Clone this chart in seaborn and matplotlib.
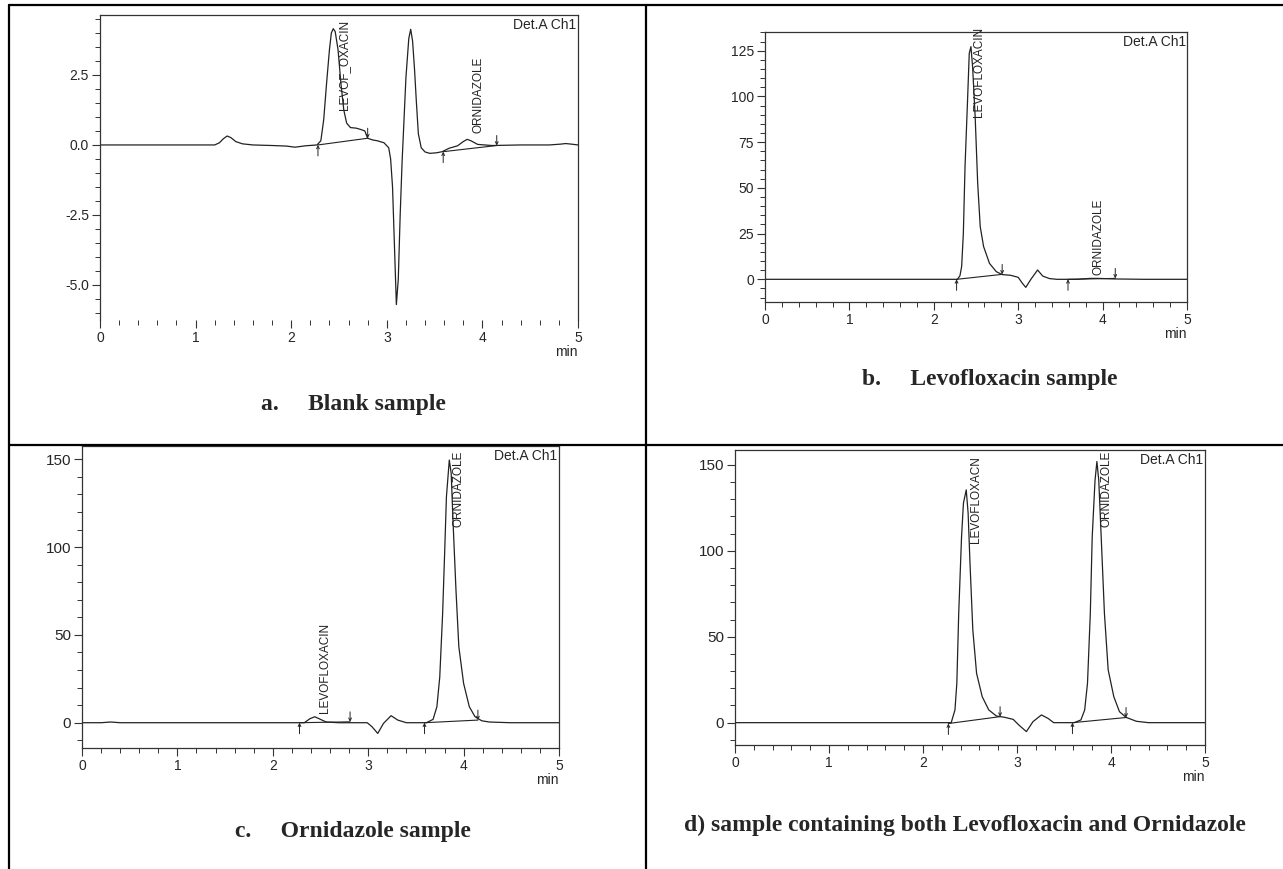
import matplotlib.pyplot as plt
import matplotlib.ticker as mticker
from matplotlib.lines import Line2D
import pandas as pd
import seaborn as sns

# Chromatogram traces (time in min, detector signal)
# a. blank sample
a_time = [0.00, 0.50, 1.00, 1.20, 1.25, 1.29, 1.33, 1.37, 1.42, 1.49, 1.60, 1.80, 1.95, 2.04, 2.15, 2.27, 2.31,
          2.34, 2.37, 2.40, 2.42, 2.44, 2.46, 2.49, 2.52, 2.55, 2.58, 2.62, 2.68, 2.73, 2.77, 2.80, 2.85, 2.90,
          2.97, 3.02, 3.04, 3.06, 3.08, 3.10, 3.12, 3.14, 3.16, 3.18, 3.20, 3.23, 3.25, 3.27, 3.29, 3.31, 3.33,
          3.36, 3.40, 3.45, 3.52, 3.58, 3.65, 3.74, 3.80, 3.84, 3.88, 3.95, 4.10, 4.40, 4.70, 4.82, 4.87, 4.93, 5.00]
a_signal = [0.00, 0.00, 0.00, 0.00, 0.08, 0.22, 0.32, 0.26, 0.12, 0.04, 0.00, -0.02, -0.04, -0.08, -0.03, 0.00, 0.15,
            0.9, 2.2, 3.4, 4.0, 4.15, 4.05, 3.4, 2.2, 1.25, 0.78, 0.62, 0.6, 0.55, 0.5, 0.24, 0.18, 0.15,
            0.08, -0.1, -0.5, -1.5, -3.6, -5.7, -4.8, -2.5, -0.6, 0.9, 2.4, 3.8, 4.13, 3.7, 2.7, 1.5, 0.4,
            -0.1, -0.25, -0.3, -0.28, -0.24, -0.12, -0.03, 0.12, 0.2, 0.15, 0.02, -0.02, 0.0, 0.0, 0.03, 0.05, 0.03, 0.0]
a_start_t, a_start_v = [2.28, 3.59], [0.0, -0.24]
a_end_t, a_end_v = [2.80, 4.15], [0.24, -0.02]
a_names = ["LEVOF_OXACIN", "ORNIDAZOLE"]
a_label_t, a_label_v = [2.555, 3.96], [1.25, 0.42]

# b. levofloxacin sample
b_time = [0.00, 1.00, 2.00, 2.28, 2.31, 2.33, 2.35, 2.37, 2.40, 2.42, 2.44, 2.46, 2.49, 2.52, 2.55, 2.59, 2.66,
          2.74, 2.81, 2.91, 3.00, 3.05, 3.09, 3.15, 3.23, 3.29, 3.37, 3.46, 3.70, 3.85, 3.95, 4.14, 4.50, 5.00]
b_signal = [0.0, 0.0, 0.0, 0.0, 2.0, 7.0, 25.0, 61.6, 98.0, 123.5, 127.2, 116.0, 89.0, 52.5, 28.8, 17.9, 8.7,
            4.2, 2.6, 2.2, 1.1, -2.2, -4.4, 0.0, 5.1, 1.8, 0.4, 0.0, 0.0, 0.5, 0.5, 0.2, 0.0, 0.0]
b_start_t, b_start_v = [2.27, 3.59], [0.0, 0.0]
b_end_t, b_end_v = [2.81, 4.15], [2.7, 0.5]
b_names = ["LEVOFLOXACIN", "ORNIDAZOLE"]
b_label_t, b_label_v = [2.53, 3.95], [88.6, 2.4]

# c. ornidazole sample
c_time = [0.00, 0.20, 0.30, 0.40, 1.00, 2.00, 2.33, 2.39, 2.44, 2.50, 2.56, 2.69, 2.99, 3.04, 3.10, 3.16, 3.24,
          3.31, 3.40, 3.61, 3.68, 3.72, 3.75, 3.78, 3.80, 3.82, 3.85, 3.87, 3.89, 3.92, 3.95, 4.00, 4.06, 4.12,
          4.19, 4.27, 4.49, 5.00]
c_signal = [0.0, 0.0, 0.4, 0.0, 0.0, 0.0, 0.0, 2.3, 3.4, 1.9, 0.4, 0.0, 0.0, -2.3, -6.1, -0.4, 4.0,
            1.5, 0.0, 0.0, 1.9, 9.1, 26.0, 62.0, 94.5, 128.7, 149.6, 142.0, 113.5, 75.6, 43.3, 22.4, 9.1, 3.4,
            1.1, 0.4, 0.0, 0.0]
c_start_t, c_start_v = [2.28, 3.59], [0.0, 0.0]
c_end_t, c_end_v = [2.81, 4.15], [0.5, 1.5]
c_names = ["LEVOFLOXACIN", "ORNIDAZOLE"]
c_label_t, c_label_v = [2.55, 3.95], [5.3, 111.6]

# d. mixture
d_time = [0.00, 1.00, 2.00, 2.30, 2.34, 2.36, 2.38, 2.41, 2.43, 2.46, 2.48, 2.50, 2.53, 2.57, 2.63, 2.70, 2.78,
          2.87, 2.96, 3.02, 3.10, 3.17, 3.26, 3.33, 3.39, 3.61, 3.68, 3.72, 3.75, 3.78, 3.80, 3.83, 3.85, 3.87,
          3.90, 3.93, 3.97, 4.03, 4.09, 4.16, 4.27, 4.40, 5.00]
d_signal = [0.0, 0.0, 0.0, 0.0, 7.4, 23.0, 63.7, 108.0, 127.7, 135.5, 122.0, 92.8, 54.0, 28.7, 15.1, 7.4, 3.9,
            3.1, 1.9, -1.4, -5.2, 0.6, 4.5, 2.5, 0.0, 0.0, 1.6, 7.4, 23.0, 63.7, 108.0, 141.0, 152.0, 141.0,
            102.5, 63.7, 30.7, 15.1, 6.4, 3.1, 0.8, 0.0, 0.0]
d_start_t, d_start_v = [2.27, 3.59], [-0.5, 0.0]
d_end_t, d_end_v = [2.82, 4.16], [3.5, 3.0]
d_names = ["LEVOFLOXACN", "ORNIDAZOLE"]
d_label_t, d_label_v = [2.56, 3.95], [104.4, 114.0]

captions = ["a.     Blank sample", "b.     Levofloxacin sample", "c.     Ornidazole sample",
            "d) sample containing both Levofloxacin and Ornidazole"]

sns.set_style("ticks")
plt.rcParams["font.family"] = ["Liberation Sans", "DejaVu Sans"]
plt.rcParams["axes.unicode_minus"] = False

W, H = 1283, 869
fig = plt.figure(figsize=(W / 100, H / 100), dpi=100)
ink = "#222222"


def px_axes(left, top, right, bottom):
    return fig.add_axes([left / W, 1 - bottom / H, (right - left) / W, (bottom - top) / H])


def draw_panel(ax, time, signal, start_t, start_v, end_t, end_v, names, label_t, label_v,
               ylim, ymajor, yminor, yfmt, ysize=10):
    df = pd.DataFrame({"time": time, "signal": signal})
    sns.lineplot(data=df, x="time", y="signal", ax=ax, color=ink, lw=0.9, estimator=None, sort=False)

    # integration baselines with start / end markers
    arrow = dict(arrowstyle="->", lw=0.7, color=ink, shrinkA=0, shrinkB=0, mutation_scale=5)
    for t0, v0, t1, v1 in zip(start_t, start_v, end_t, end_v):
        ax.plot([t0, t1], [v0, v1], color=ink, lw=0.8)
        ax.annotate("", xy=(t0, v0), xytext=(0, -11), textcoords="offset pixels", arrowprops=arrow)
        ax.annotate("", xy=(t1, v1), xytext=(0, 10), textcoords="offset pixels", arrowprops=arrow)

    for name, t, v in zip(names, label_t, label_v):
        ax.text(t, v, name, rotation=90, ha="center", va="bottom", fontsize=8.5, color=ink)
    ax.text(0.997, 0.99, "Det.A Ch1", transform=ax.transAxes, ha="right", va="top", fontsize=10)

    ax.set_xlim(0, 5)
    ax.set_ylim(*ylim)
    ax.xaxis.set_major_locator(mticker.MultipleLocator(1))
    ax.xaxis.set_minor_locator(mticker.MultipleLocator(0.2))
    ax.yaxis.set_major_locator(mticker.MultipleLocator(ymajor))
    ax.yaxis.set_minor_locator(mticker.MultipleLocator(yminor))
    ax.yaxis.set_major_formatter(mticker.FormatStrFormatter(yfmt))
    ax.tick_params(which="major", length=6, width=0.8, labelsize=10, pad=2, color="#333333")
    ax.tick_params(axis="y", labelsize=ysize)
    ax.tick_params(which="minor", length=3.5, width=0.7, color="#333333")
    ax.set_xlabel("min", loc="right", labelpad=0, fontsize=10)
    ax.set_ylabel("")
    for sp in ax.spines.values():
        sp.set_visible(True)
        sp.set_linewidth(0.9)
        sp.set_color("#333333")


ax_a = px_axes(100, 15, 578, 320)
draw_panel(ax_a, a_time, a_signal, a_start_t, a_start_v, a_end_t, a_end_v, a_names, a_label_t, a_label_v,
           (-6.25, 4.64), 2.5, 0.5, "%.1f")
ax_a.spines["bottom"].set_visible(False)

ax_b = px_axes(765, 32, 1187, 302)
draw_panel(ax_b, b_time, b_signal, b_start_t, b_start_v, b_end_t, b_end_v, b_names, b_label_t, b_label_v,
           (-12.4, 135.2), 25, 5, "%d")

ax_c = px_axes(82, 446, 559, 748)
draw_panel(ax_c, c_time, c_signal, c_start_t, c_start_v, c_end_t, c_end_v, c_names, c_label_t, c_label_v,
           (-14.4, 157.6), 50, 10, "%d", ysize=11)

ax_d = px_axes(735, 450, 1205, 745)
draw_panel(ax_d, d_time, d_signal, d_start_t, d_start_v, d_end_t, d_end_v, d_names, d_label_t, d_label_v,
           (-13.0, 158.7), 50, 10, "%d", ysize=11)

# captions under each chromatogram
for text, (cx, cy) in zip(captions, [(353, 405), (990, 380), (353, 832), (965, 825)]):
    fig.text(cx / W, 1 - cy / H, text, ha="center", va="center", fontsize=17, fontweight="bold",
             family=["Liberation Serif", "DejaVu Serif"])

# table grid lines
for (x0, y0), (x1, y1) in [((9, 5), (1283, 5)), ((9, 5), (9, 869)), ((646, 5), (646, 869)),
                           ((9, 445), (1283, 445))]:
    fig.add_artist(Line2D([x0 / W, x1 / W], [1 - y0 / H, 1 - y1 / H], transform=fig.transFigure,
                          color="black", lw=1.6))

fig.savefig("out.png", dpi=100)
